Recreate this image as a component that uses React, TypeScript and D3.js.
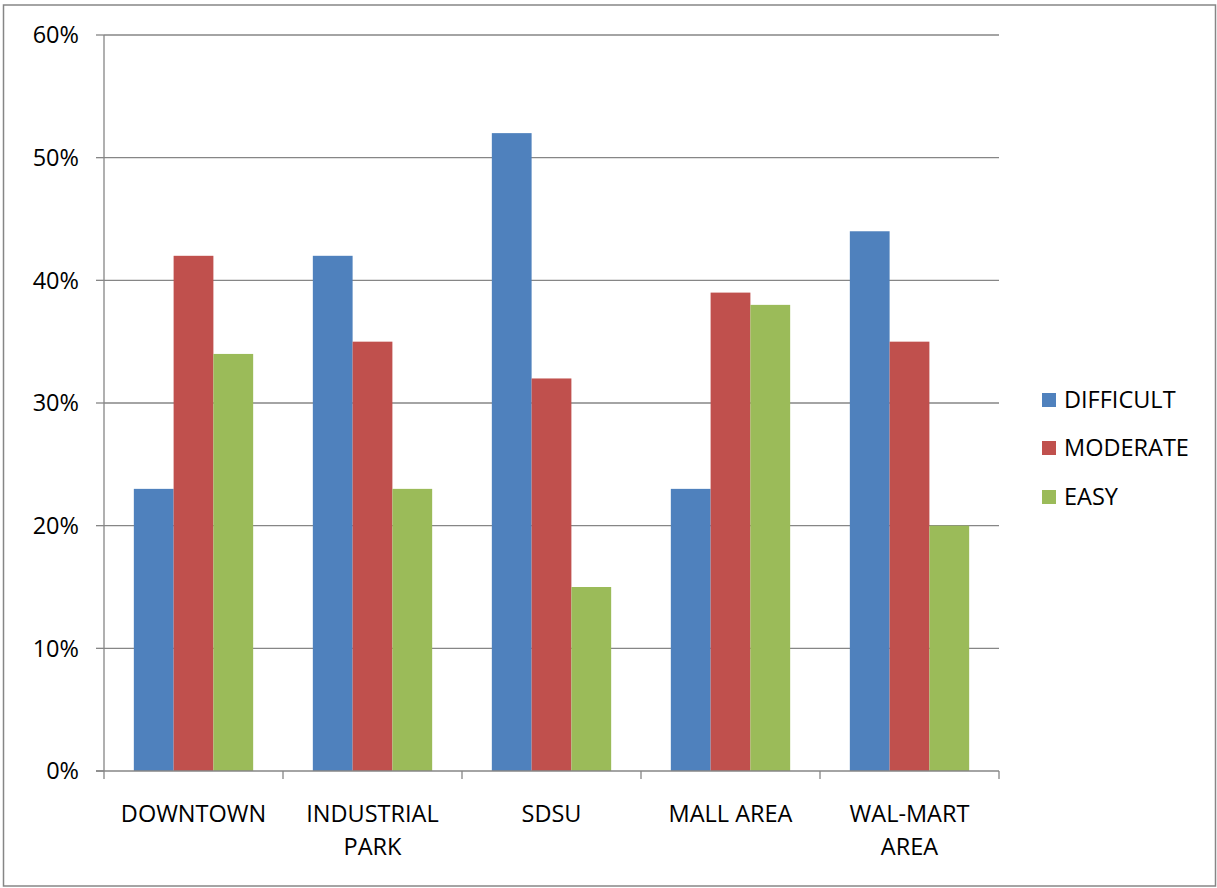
import React from "react";
import * as d3 from "d3";

const categories = ["DOWNTOWN", "INDUSTRIAL PARK", "SDSU", "MALL AREA", "WAL-MART AREA"];
const categoryLines = [["DOWNTOWN"], ["INDUSTRIAL", "PARK"], ["SDSU"], ["MALL AREA"], ["WAL-MART", "AREA"]];
const seriesNames = ["DIFFICULT", "MODERATE", "EASY"];
const difficult = [23, 42, 52, 23, 44];
const moderate = [42, 35, 32, 39, 35];
const easy = [34, 23, 15, 38, 20];
const yTicks = [0, 10, 20, 30, 40, 50, 60];
const colors = ["#4F81BD", "#C0504D", "#9BBB59"];

const W = 1217;
const H = 888;
const plot = { left: 104, right: 999, top: 35, bottom: 771 };
const FONT = "'Open Sans', sans-serif";
const FS = 23.5;
const GRID = "#868686";

export default function App() {
  const series = [difficult, moderate, easy];
  const x = d3.scaleBand<string>().domain(categories).range([plot.left, plot.right]).paddingInner(0).paddingOuter(0);
  const inner = d3
    .scaleBand<string>()
    .domain(seriesNames)
    .range([0, x.bandwidth()])
    .paddingInner(0)
    .paddingOuter(0.75);
  const y = d3.scaleLinear().domain([0, 60]).range([plot.bottom, plot.top]);

  const legendX = 1042;
  const legendY = [400, 448, 497];

  return (
    <svg
      width={W}
      height={H}
      style={{ position: "absolute", left: 0, top: 0, background: "#fff" }}
      fontFamily={FONT}
    >
      <rect x={0} y={0} width={W} height={H} fill="#fff" />
      <rect x={3.5} y={5} width={1212} height={881} fill="none" stroke={GRID} strokeWidth={1.5} />
      {yTicks.map((t) => (
        <g key={t}>
          {t > 0 && (
            <line x1={plot.left} x2={plot.right} y1={y(t)} y2={y(t)} stroke={GRID} strokeWidth={1.3} />
          )}
          <line x1={plot.left - 8} x2={plot.left} y1={y(t)} y2={y(t)} stroke={GRID} strokeWidth={1.3} />
          <text x={79} y={y(t)} dy="0.35em" textAnchor="end" fontSize={FS} fill="#000">
            {t}%
          </text>
        </g>
      ))}
      {series.map((vals, si) =>
        vals.map((v, ci) => (
          <rect
            key={`${si}-${ci}`}
            x={(x(categories[ci]) as number) + (inner(seriesNames[si]) as number)}
            y={y(v)}
            width={inner.bandwidth()}
            height={y(0) - y(v)}
            fill={colors[si]}
          />
        ))
      )}
      <line x1={plot.left} x2={plot.left} y1={plot.top} y2={plot.bottom} stroke={GRID} strokeWidth={1.3} />
      <line x1={plot.left - 8} x2={plot.right} y1={plot.bottom} y2={plot.bottom} stroke={GRID} strokeWidth={1.3} />
      {categories.map((c, i) => (
        <line
          key={`tk${i}`}
          x1={x(c) as number}
          x2={x(c) as number}
          y1={plot.bottom}
          y2={plot.bottom + 8}
          stroke={GRID}
          strokeWidth={1.3}
        />
      ))}
      <line x1={plot.right} x2={plot.right} y1={plot.bottom} y2={plot.bottom + 8} stroke={GRID} strokeWidth={1.3} />
      {categories.map((c, i) => (
        <text key={`cl${i}`} x={(x(c) as number) + x.bandwidth() / 2} textAnchor="middle" fontSize={FS} fill="#000">
          {categoryLines[i].map((ln, li) => (
            <tspan key={li} x={(x(c) as number) + x.bandwidth() / 2} y={822 + li * 33}>
              {ln}
            </tspan>
          ))}
        </text>
      ))}
      {seriesNames.map((s, i) => (
        <g key={s}>
          <rect x={legendX} y={legendY[i] - 7} width={14} height={14} fill={colors[i]} />
          <text x={legendX + 22} y={legendY[i]} dy="0.35em" fontSize={FS} fill="#000">
            {s}
          </text>
        </g>
      ))}
    </svg>
  );
}
